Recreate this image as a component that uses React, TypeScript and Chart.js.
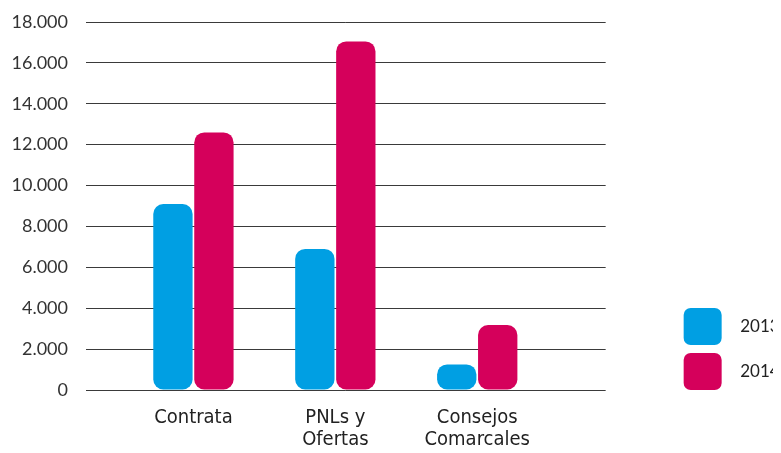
import React, { useEffect, useRef } from "react";
import { Chart, registerables } from "chart.js";

Chart.register(...registerables);

const categories: (string | string[])[] = [
  "Contrata",
  ["PNLs y", "Ofertas"],
  ["Consejos", "Comarcales"],
];
const seriesNames = ["2013", "2014"];
const values2013 = [9100, 6900, 1250];
const values2014 = [12600, 17050, 3180];
const yTickValues = [0, 2000, 4000, 6000, 8000, 10000, 12000, 14000, 16000, 18000];
const colors = ["#009FE3", "#D5005B"];

const fmt = (v: number) => {
  if (v === 0) return "0";
  return String(v).replace(/\B(?=(\d{3})+(?!\d))/g, ".");
};

export default function App() {
  const ref = useRef<HTMLCanvasElement | null>(null);

  useEffect(() => {
    if (!ref.current) return;
    const toPoints = (arr: number[]) => arr.map((y, i) => ({ x: i + 1, y }));
    const legendShift = {
      id: "legendShift",
      afterLayout(chart: any) {
        if (chart.legend) {
          chart.legend.top += 8;
          chart.legend.bottom += 8;
        }
      },
    };
    const chart = new Chart(ref.current, {
      type: "bar",
      data: {
        datasets: [
          {
            label: seriesNames[0],
            data: toPoints(values2013),
            backgroundColor: colors[0],
            borderWidth: 0,
            borderRadius: 10,
            borderSkipped: false,
          },
          {
            label: seriesNames[1],
            data: toPoints(values2014),
            backgroundColor: colors[1],
            borderWidth: 0,
            borderRadius: 10,
            borderSkipped: false,
          },
        ],
      } as any,
      options: {
        animation: false,
        responsive: true,
        maintainAspectRatio: false,
        datasets: {
          bar: { categoryPercentage: 0.5775, barPercentage: 0.96 },
        } as any,
        layout: { padding: { top: 22, left: 0, right: 20.4, bottom: 0 } },
        plugins: {
          tooltip: { enabled: false },
          legend: {
            position: "right",
            align: "end",
            fullSize: false,
            labels: {
              boxWidth: 38,
              boxHeight: 37,
              padding: 8,
              color: "#222",
              textAlign: "right",
              useBorderRadius: true,
              borderRadius: 7,
              font: { family: "Lato, 'Open Sans', sans-serif", size: 17 },
            } as any,
          },
        },
        scales: {
          x: {
            type: "linear",
            offset: false,
            min: 0.243,
            max: 3.905,
            grid: { display: false, drawTicks: false, offset: false },
            border: { display: false },
            afterBuildTicks: (s: any) => {
              s.ticks = categories.map((_, i) => ({ value: i + 1 }));
            },
            afterFit: (s: any) => {
              s.height = 63;
              s.paddingLeft = 0;
              s.paddingRight = 0;
            },
            afterUpdate: (s: any) => {
              s.paddingLeft = 0;
              s.paddingRight = 0;
            },
            ticks: {
              padding: 17,
              maxRotation: 0,
              autoSkip: false,
              color: "#222",
              font: {
                family: "'Liberation Sans Narrow', 'DejaVu Sans Condensed', sans-serif",
                size: 20,
                lineHeight: "22px",
              } as any,
              callback: (v: any) => categories[Math.round(Number(v)) - 1] as any,
            },
          },
          y: {
            type: "linear",
            min: 0,
            max: 18000,
            grid: { color: "#3a3a3a", lineWidth: 1, drawTicks: false },
            border: { display: false },
            afterBuildTicks: (s: any) => {
              s.ticks = yTickValues.map((v) => ({ value: v }));
            },
            afterFit: (s: any) => {
              s.width = 86;
              s.paddingTop = 0;
              s.paddingBottom = 0;
            },
            ticks: {
              padding: 18,
              color: "#333",
              font: { family: "Lato, 'Open Sans', sans-serif", size: 18 },
              callback: (v: any) => fmt(Number(v)),
            },
          },
          y2: {
            type: "linear",
            position: "right",
            display: true,
            grid: { display: false, drawTicks: false },
            border: { display: false },
            ticks: { display: false },
            afterFit: (s: any) => {
              s.width = 70;
              s.paddingTop = 0;
              s.paddingBottom = 0;
            },
          },
        },
      } as any,
      plugins: [legendShift],
    });
    return () => chart.destroy();
  }, []);

  return (
    <div style={{ margin: "-8px", width: "781px", height: "453px", overflow: "hidden", position: "relative" }}>
      <div style={{ width: "800px", height: "453px", position: "absolute", left: 0, top: 0 }}>
        <canvas ref={ref} style={{ display: "block" }} />
      </div>
    </div>
  );
}
